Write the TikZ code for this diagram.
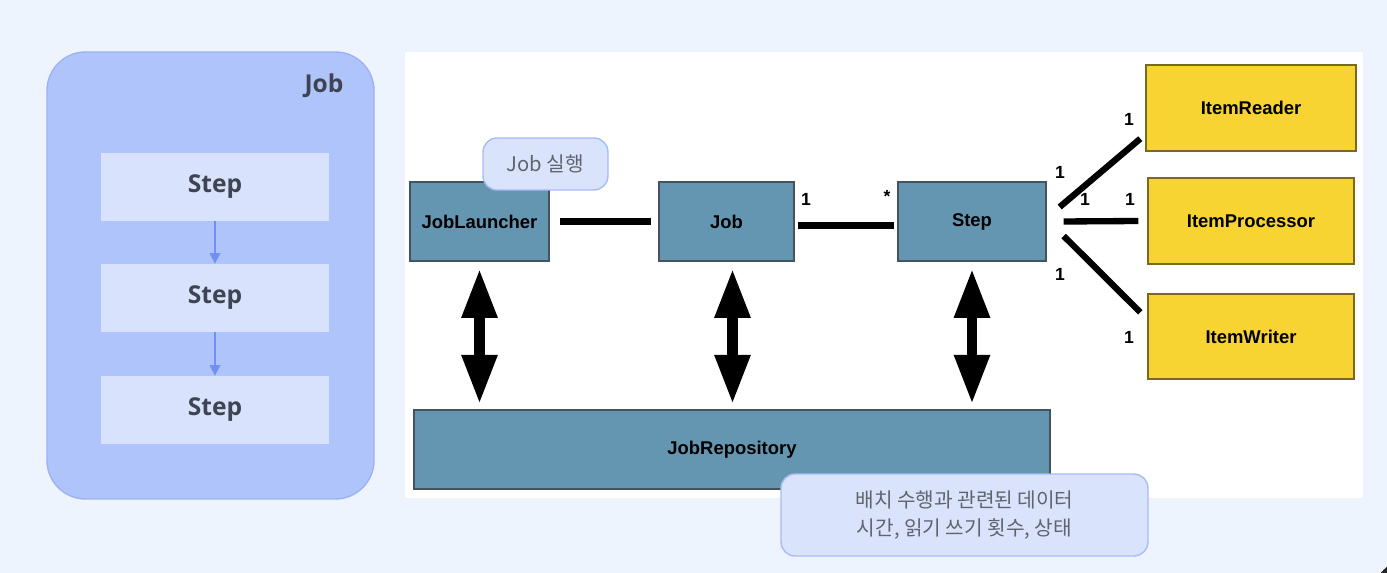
\documentclass[tikz,border=0pt]{standalone}
\usepackage{fontspec}
\setmainfont{Liberation Sans}
\newfontfamily\notosans{Open Sans}
\newfontfamily\kr{Noto Sans CJK KR}
\usetikzlibrary{arrows.meta,calc}

\definecolor{bgcol}{HTML}{EEF4FD}
\definecolor{jobfill}{HTML}{B0C4FC}
\definecolor{jobline}{HTML}{9DB2F5}
\definecolor{stepfill}{HTML}{D8E2FD}
\definecolor{flowcol}{HTML}{7090F2}
\definecolor{labelgray}{HTML}{3E4451}
\definecolor{boxblue}{HTML}{6496B2}
\definecolor{boxline}{HTML}{45535E}
\definecolor{boxyellow}{HTML}{F7D431}
\definecolor{yline}{HTML}{7A6A20}
\definecolor{notefill}{HTML}{D9E3FC}
\definecolor{noteline}{HTML}{A9BBF3}
\definecolor{notetext}{HTML}{60646C}

\tikzset{
  stepbox/.style={fill=stepfill, minimum width=4.56cm, minimum height=1.36cm,
    font=\notosans\bfseries\fontsize{14}{16}\selectfont, text=labelgray},
  flow/.style={->, flowcol, semithick, >={Triangle[width=6pt,length=6pt]}},
  bluebox/.style={draw=boxline, fill=boxblue, thick, minimum height=1.58cm,
    font=\bfseries\fontsize{10.5}{12}\selectfont, text=black},
  itembox/.style={draw=yline, fill=boxyellow, thick, minimum width=4.12cm, minimum height=1.72cm,
    font=\bfseries\fontsize{10.5}{12}\selectfont, text=black},
  link/.style={line width=3.6pt, black},
  dblarrow/.style={line width=6pt, black,
    {Triangle[width=19pt,length=28pt]}-{Triangle[width=19pt,length=28pt]}},
  mult/.style={font=\bfseries\fontsize{10}{12}\selectfont, text=black},
  note/.style={draw=noteline, fill=notefill, rounded corners=8pt, thick,
    font=\kr\fontsize{11.5}{16}\selectfont, text=notetext, align=center}
}

\begin{document}
\begin{tikzpicture}[x=0.02cm, y=-0.02cm]
  \useasboundingbox (0,0) rectangle (1387,573);
  \fill[bgcol] (0,0) rectangle (1387,573);
  \fill[white] (405,52) rectangle (1363,498);
  \fill[black!85] (1412,598) circle (40);

  % left: job with steps
  \draw[jobline, fill=jobfill, thick, rounded corners=22pt] (47,52) rectangle (374,499);
  \node[font=\notosans\bfseries\fontsize{14}{16}\selectfont, text=labelgray] (joblabel) at (324,86) {Job};
  \node[stepbox] (s1) at (215,187) {Step};
  \node[stepbox] (s2) at (215,298) {Step};
  \node[stepbox] (s3) at (215,410) {Step};
  \draw[flow] (s1) -- (s2);
  \draw[flow] (s2) -- (s3);

  % right: domain diagram
  \node[bluebox, minimum width=2.78cm] (launcher) at (479.5,221.5) {JobLauncher};
  \node[bluebox, minimum width=2.70cm] (job) at (726.5,221.5) {Job};
  \node[bluebox, minimum width=2.96cm] (step) at (972,221.5) {Step};
  \node[bluebox, minimum width=12.72cm] (repo) at (732,449.5) {JobRepository};
  \node[itembox, minimum width=4.2cm] (reader) at (1251,108) {ItemReader};
  \node[itembox] (processor) at (1251,221) {ItemProcessor};
  \node[itembox, minimum height=1.70cm] (writer) at (1251,336.5) {ItemWriter};

  \draw[link, shorten <=6pt, shorten >=4pt] (launcher) -- (job);
  \draw[link, shorten <=2pt, shorten >=2pt] ($(job.east)+(0,4)$) -- ($(step.west)+(0,4)$);
  \draw[link] ($(step.east)+(13,-14.5)$) -- ($(reader.south west)+(-5,-13)$);
  \draw[link] ($(step.east)+(17,0)$) -- ($(processor.west)+(-9,0)$);
  \draw[link] ($(step.east)+(17,14.5)$) -- ($(writer.north west)+(-7,19)$);

  \node[mult] (m1) at (806,199) {1};
  \node[mult] (m2) at (887,196) {*};
  \node[mult] (m3) at (1060,172) {1};
  \node[mult] (m4) at (1129,119) {1};
  \node[mult] (m5) at (1085,199) {1};
  \node[mult] (m6) at (1130,199) {1};
  \node[mult] (m7) at (1060,274) {1};
  \node[mult] (m8) at (1129,337) {1};

  \draw[dblarrow, shorten <=4pt, shorten >=3pt] (launcher.south) -- (launcher.south |- repo.north);
  \draw[dblarrow, shorten <=4pt, shorten >=3pt] ($(job.south)+(6,0)$) -- ($(job.south |- repo.north)+(6,0)$);
  \draw[dblarrow, shorten <=4pt, shorten >=3pt] (step.south) -- (step.south |- repo.north);

  % notes
  \node[note, minimum width=2.5cm, minimum height=1.04cm] (runnote) at (545.5,164) {Job 실행};
  \node[note, minimum width=7.34cm, minimum height=1.64cm] (reponote) at (964.5,515)
    {배치 수행과 관련된 데이터\\시간, 읽기 쓰기 횟수, 상태};
\end{tikzpicture}
\end{document}
